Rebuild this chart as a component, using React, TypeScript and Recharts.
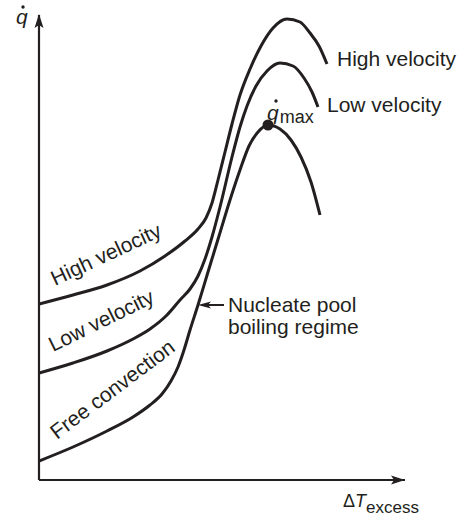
import React from 'react';
import { LineChart, Line, XAxis, YAxis, ReferenceDot, ReferenceLine } from 'recharts';

const INK = '#231f20';
const FONT = "'Liberation Sans', Arial, Helvetica, sans-serif";

// Axis extents (arbitrary units)
const X_MAX = 366;
const Y_MAX = 465;

// Curves: [excess temperature, heat flux] in arbitrary units
const highVelocity: [number, number][] = [
  [0, 176], [34, 185], [68, 195], [101, 209], [126, 224], [146, 239], [159, 251],
  [167, 262], [173, 277], [179, 300], [186, 328], [193, 356], [201, 385], [211, 411],
  [222, 434], [234, 452], [248, 461], [261, 458], [271, 447], [280, 434], [288, 416],
];
const lowVelocity: [number, number][] = [
  [0, 107], [34, 117], [68, 129], [94, 141], [111, 151], [128, 165], [141, 180],
  [151, 191], [159, 204], [166, 221], [173, 243], [181, 273], [193, 323], [201, 353],
  [208, 374], [217, 394], [228, 409], [241, 417], [254, 414], [265, 402], [273, 388],
  [279, 373],
];
const freeConvection: [number, number][] = [
  [0, 19], [34, 33], [68, 49], [94, 63], [111, 75], [123, 86], [132, 99], [139, 113],
  [145, 130], [151, 150], [159, 175], [169, 208], [180, 244], [191, 280], [201, 310],
  [210, 334], [219, 348], [229, 355], [241, 351], [252, 340], [262, 323], [272, 298],
  [281, 265],
];
const qMaxPoint: [number, number] = [229, 355];
const annotationTip: [number, number] = [159, 175];
const annotationEnd: [number, number] = [185, 175];

const curveNames = ['High velocity', 'Low velocity', 'Free convection'];
const annotationLines = ['Nucleate pool', 'boiling regime'];

const toRows = (pts: [number, number][]) => pts.map(([x, q]) => ({ x, q }));

type P = { cx?: number; cy?: number };

const rotText = (text: string, angle: number, size = 21) => (p: P) => {
  const x = p.cx ?? 0;
  const y = p.cy ?? 0;
  return (
    <text
      x={x}
      y={y}
      fontFamily={FONT}
      fontSize={size}
      fill={INK}
      textAnchor="start"
      transform={angle ? `rotate(${angle}, ${x}, ${y})` : undefined}
    >
      {text}
    </text>
  );
};

const qDot = (sub: string | null, dx: number, dy: number) => (p: P) => {
  const x = p.cx ?? 0;
  const y = p.cy ?? 0;
  return (
    <g>
      <text x={x} y={y} fontFamily={FONT} fontSize={21} fontStyle="italic" fill={INK}>
        q
        {sub ? (
          <tspan fontStyle="normal" fontSize={18} dy={3} dx={1}>
            {sub}
          </tspan>
        ) : null}
      </text>
      <circle cx={x + dx} cy={y + dy} r={1.7} fill={INK} />
    </g>
  );
};

const yArrow = (p: P) => {
  const x = p.cx ?? 0;
  const y = p.cy ?? 0;
  return (
    <path
      d={`M${x},${y - 1} L${x - 4.5},${y + 13} L${x},${y + 10} L${x + 4.5},${y + 13} Z`}
      fill={INK}
    />
  );
};

const xArrow = (p: P) => {
  const x = p.cx ?? 0;
  const y = p.cy ?? 0;
  return (
    <path
      d={`M${x},${y} L${x - 14},${y - 4.5} L${x - 11},${y} L${x - 14},${y + 4.5} Z`}
      fill={INK}
    />
  );
};

const leftArrow = (p: P) => {
  const x = p.cx ?? 0;
  const y = p.cy ?? 0;
  return (
    <path
      d={`M${x},${y} L${x + 13},${y - 3.5} L${x + 10},${y} L${x + 13},${y + 3.5} Z`}
      fill={INK}
    />
  );
};

const xLabel = (p: P) => {
  const x = p.cx ?? 0;
  const y = p.cy ?? 0;
  return (
    <text x={x} y={y} fontFamily={FONT} fontSize={18} fill={INK}>
      Δ
      <tspan fontStyle="italic">T</tspan>
      <tspan fontSize={17} dy={6}>
        excess
      </tspan>
    </text>
  );
};

const lineProps = {
  type: 'monotone' as const,
  dataKey: 'q',
  stroke: INK,
  strokeWidth: 3,
  dot: false,
  activeDot: false,
  isAnimationActive: false,
};

export default function App() {
  return (
    <div style={{ position: 'absolute', left: 0, top: 0, background: '#fff' }}>
      <LineChart
        width={465}
        height={518}
        margin={{ top: 15, right: 60, bottom: 38, left: 39 }}
      >
        <XAxis
          type="number"
          dataKey="x"
          domain={[0, X_MAX]}
          allowDataOverflow
          tick={false}
          tickLine={false}
          height={0}
          axisLine={{ stroke: INK, strokeWidth: 2 }}
        />
        <YAxis
          type="number"
          dataKey="q"
          domain={[0, Y_MAX]}
          allowDataOverflow
          tick={false}
          tickLine={false}
          width={0}
          axisLine={{ stroke: INK, strokeWidth: 2 }}
        />

        {/* axis lines */}
        <ReferenceLine x={0} stroke={INK} strokeWidth={2.2} ifOverflow="visible" />
        <ReferenceLine y={0} stroke={INK} strokeWidth={2.2} ifOverflow="visible" />

        <Line data={toRows(highVelocity)} {...lineProps} />
        <Line data={toRows(lowVelocity)} {...lineProps} />
        <Line data={toRows(freeConvection)} {...lineProps} />

        <ReferenceDot x={qMaxPoint[0]} y={qMaxPoint[1]} r={5.5} fill={INK} stroke="none" ifOverflow="visible" />

        {/* axis arrowheads */}
        <ReferenceDot x={0} y={Y_MAX} ifOverflow="visible" shape={yArrow} />
        <ReferenceDot x={X_MAX} y={0} ifOverflow="visible" shape={xArrow} />

        {/* axis labels */}
        <ReferenceDot x={-23} y={456} ifOverflow="visible" shape={qDot(null, 7, -17)} />
        <ReferenceDot x={304} y={-27} ifOverflow="visible" shape={xLabel} />

        {/* curve labels along the curves */}
        <ReferenceDot x={16} y={194} ifOverflow="visible" shape={rotText(curveNames[0], -25)} />
        <ReferenceDot x={14} y={128} ifOverflow="visible" shape={rotText(curveNames[1], -26)} />
        <ReferenceDot x={18} y={40} ifOverflow="visible" shape={rotText(curveNames[2], -37)} />

        {/* curve labels at the right end */}
        <ReferenceDot x={298} y={414} ifOverflow="visible" shape={rotText(curveNames[0], 0)} />
        <ReferenceDot x={288} y={368} ifOverflow="visible" shape={rotText(curveNames[1], 0)} />

        {/* q max label */}
        <ReferenceDot x={228} y={360} ifOverflow="visible" shape={qDot('max', 9, -19)} />

        {/* nucleate pool boiling annotation */}
        <ReferenceLine
          segment={[
            { x: annotationTip[0] + 10, y: annotationTip[1] },
            { x: annotationEnd[0], y: annotationEnd[1] },
          ]}
          stroke={INK}
          strokeWidth={2}
          ifOverflow="visible"
        />
        <ReferenceDot x={annotationTip[0]} y={annotationTip[1]} ifOverflow="visible" shape={leftArrow} />
        <ReferenceDot x={189} y={168} ifOverflow="visible" shape={rotText(annotationLines[0], 0)} />
        <ReferenceDot x={189} y={146} ifOverflow="visible" shape={rotText(annotationLines[1], 0)} />
      </LineChart>
    </div>
  );
}
